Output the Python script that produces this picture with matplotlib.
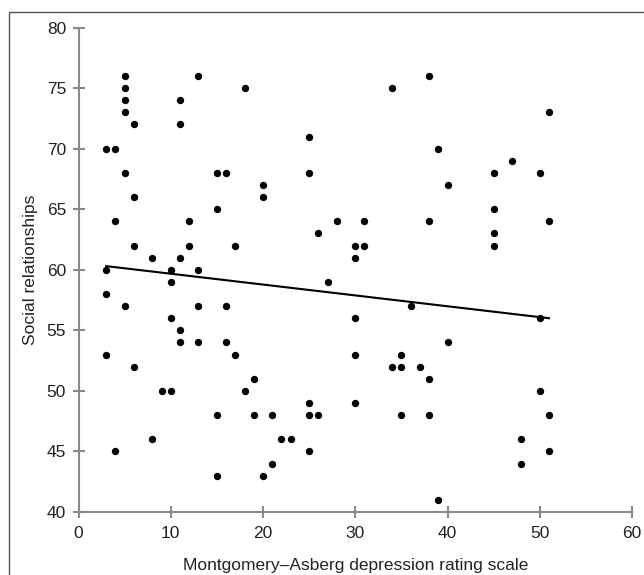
import numpy as np
import matplotlib.pyplot as plt
from matplotlib.patches import Rectangle

plt.rcParams['font.family'] = ['Liberation Sans', 'DejaVu Sans']

# MADRS score vs social relationships score
madrs = [3, 4, 3, 3, 3, 4, 4, 5, 5, 5, 5, 5, 5, 6, 6, 6, 6, 8, 8, 9,
         10, 10, 10, 10, 11, 11, 11, 11, 11, 12, 12, 13, 13, 13, 13,
         15, 15, 15, 15, 16, 16, 16, 17, 17, 18, 18, 19, 19, 20, 20, 20,
         21, 21, 22, 23, 25, 25, 25, 25, 25, 26, 26, 27, 28,
         30, 30, 30, 30, 30, 31, 31, 34, 34, 35, 35, 35, 36, 37,
         38, 38, 38, 38, 39, 39, 40, 40, 45, 45, 45, 45, 47, 48, 48,
         50, 50, 50, 51, 51, 51, 51]
social = [70, 70, 60, 58, 53, 64, 45, 76, 75, 74, 73, 68, 57, 72, 66, 62, 52, 61, 46, 50,
          60, 59, 56, 50, 74, 72, 61, 55, 54, 64, 62, 76, 60, 57, 54,
          68, 65, 48, 43, 68, 57, 54, 62, 53, 75, 50, 51, 48, 67, 66, 43,
          48, 44, 46, 46, 71, 68, 49, 48, 45, 63, 48, 59, 64,
          62, 61, 56, 53, 49, 64, 62, 75, 52, 53, 52, 48, 57, 52,
          76, 64, 51, 48, 70, 41, 67, 54, 68, 65, 63, 62, 69, 46, 44,
          68, 56, 50, 73, 64, 48, 45]

# fitted trend line end points
fit_x = [3, 51]
fit_y = [60.3, 56.0]

fig = plt.figure(figsize=(6.44, 5.75), dpi=100)
# outer frame around the figure
fig.patches.append(Rectangle((9/644, -0.1), 1.2, 1.1 - 12/575, transform=fig.transFigure,
                             fill=False, edgecolor='#555555', linewidth=1.0))
ax = fig.add_axes([78.5/644, (575-512)/575, (632-78.5)/644, (512-27.5)/575])

ax.scatter(madrs, social, s=28, color='black', zorder=3, linewidths=0)
ax.plot(fit_x, fit_y, color='black', linewidth=1.5)

ax.set_xlim(0, 60)
ax.set_ylim(40, 80)
ax.set_xticks(np.arange(0, 61, 10))
ax.set_yticks(np.arange(40, 81, 5))
for s in ['top', 'right']:
    ax.spines[s].set_visible(False)
for s in ['left', 'bottom']:
    ax.spines[s].set_color('#8a8a8a')
    ax.spines[s].set_linewidth(1.5)
ax.tick_params(axis='both', direction='inout', length=8, width=1.5, color='#8a8a8a',
               labelsize=12.5, labelcolor='#222222')
ax.tick_params(axis='y', pad=5)
ax.tick_params(axis='x', pad=6)
ax.patch.set_visible(False)

ax.set_xlabel('Montgomery\u2013Asberg depression rating scale', fontsize=12.5, color='#222222', labelpad=12)
ax.set_ylabel('Social relationships', fontsize=12.5, color='#222222', labelpad=6)

fig.savefig('out.png', dpi=100)
